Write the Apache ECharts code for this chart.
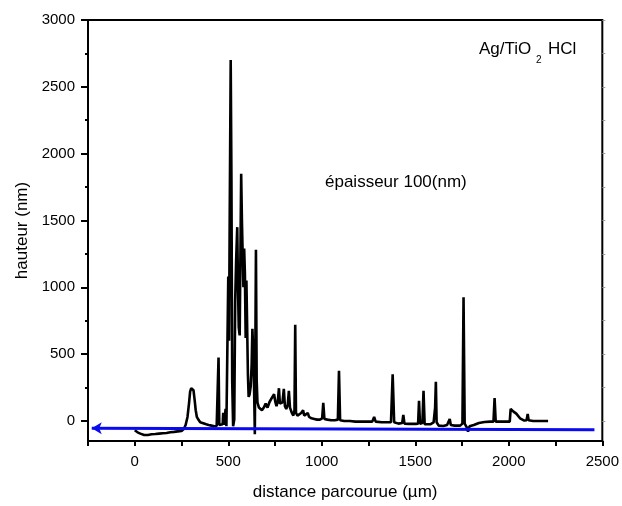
<!DOCTYPE html>
<html>
<head>
<meta charset="utf-8">
<script src="https://cdn.jsdelivr.net/npm/echarts@6/dist/echarts.min.js"></script>
<style>
  html, body { margin: 0; padding: 0; background: #fff; }
  #chart { width: 622px; height: 506px; }
</style>
</head>
<body>
<div id="chart"></div>
<script>
// Surface profile: scan distance (µm) vs measured height (nm)
const distance = [
  0, 15, 30, 50, 70, 90, 110, 130, 150, 170, 190, 210, 230, 250, 262, 272, 282, 290, 296, 302,
  308, 314, 320, 326, 332, 340, 350, 362, 372, 382, 395, 410, 425, 438, 444, 448, 452, 462, 470, 473,
  476, 482, 486, 490, 496, 500, 504, 508, 513, 517, 521, 526, 532, 537, 542, 548, 552, 556, 561, 565,
  569, 573, 577, 581, 585, 589, 593, 597, 601, 605, 609, 614, 620, 625, 629, 634, 638, 642, 648, 652,
  656, 664, 672, 680, 690, 700, 710, 720, 732, 745, 752, 758, 765, 771, 776, 783, 790, 797, 803, 810,
  818, 824, 830, 840, 848, 854, 858, 862, 870, 880, 890, 900, 906, 915, 925, 932, 945, 960, 975, 990,
  1002, 1008, 1014, 1030, 1050, 1070, 1086, 1092, 1098, 1120, 1150, 1180, 1210, 1240, 1270, 1280, 1288, 1320, 1350, 1370,
  1379, 1387, 1410, 1430, 1436, 1442, 1470, 1500, 1515, 1520, 1525, 1538, 1544, 1550, 1580, 1598, 1606, 1610, 1614, 1625,
  1650, 1670, 1684, 1690, 1710, 1740, 1752, 1758, 1764, 1776, 1782, 1790, 1813, 1840, 1870, 1900, 1918, 1924, 1930, 1960,
  1990, 2005, 2010, 2025, 2040, 2060, 2083, 2095, 2101, 2106, 2130, 2160, 2190, 2210
];
const height = [
  -70, -85, -95, -105, -105, -100, -98, -95, -92, -90, -85, -82, -78, -75, -60, -30, 30, 130, 220, 245,
  250, 230, 160, 80, 30, 10, -10, -15, -10, -25, -30, -35, -40, -38, -30, 475, -30, -38, -25, 60,
  -30, -30, 90, -40, -40, 1080, 600, 1600, 2700, 1800, 300, -40, 10, 900, 1200, 1450, 1000, 700, 640, 1250,
  1850, 1500, 1250, 1000, 1290, 1100, 620, 1050, 700, 350, 180, 200, 260, 420, 690, 500, 250, -100, 1280, 300,
  140, 100, 110, 80, 100, 130, 100, 140, 170, 200, 140, 110, 150, 245, 130, 120, 140, 240, 110, 90,
  120, 225, 100, 60, 40, 80, 720, 60, 40, 30, 60, 80, 40, 40, 60, 30, 20, 15, 10, 10,
  20, 135, 15, 10, 5, 5, 10, 375, 5, 0, 0, -5, -5, -5, -5, 30, -5, -10, -10, -10,
  350, -10, -20, -15, 45, -20, -22, -22, -20, 150, -20, -15, 226, -25, -25, -10, 100, 293, -10, -35,
  -38, -30, 15, -30, -35, -35, -20, 925, -20, -50, -80, -40, -30, -15, -8, -5, -5, 172, -5, -5,
  -5, -5, 90, 70, 55, 20, 3, 5, 52, 5, 0, 0, 0, 0
];

// Scan direction arrow (from right to left)
const arrowStart = [2458, -65];
const arrowEnd = [-230, -55];

// Axis ranges and tick positions
const xRange = [-250, 2500];
const yRange = [-150, 3000];
const yMajorTicks = [0, 500, 1000, 1500, 2000, 2500, 3000];
const yMinorTicks = [250, 750, 1250, 1750, 2250, 2750];
const yAllTicks = [0, 250, 500, 750, 1000, 1250, 1500, 1750, 2000, 2250, 2500, 2750, 3000];

const FONT = '"Liberation Sans", Arial, sans-serif';

const chart = echarts.init(document.getElementById('chart'), null, { renderer: 'canvas' });

const profile = distance.map((d, i) => [d, height[i]]);

chart.setOption({
  animation: false,
  backgroundColor: '#fff',
  grid: {
    left: 88, top: 20, width: 517, height: 422,
    show: true, borderColor: '#000', borderWidth: 2, backgroundColor: 'transparent'
  },
  xAxis: {
    type: 'value',
    min: xRange[0], max: xRange[1], interval: 250,
    name: 'distance parcourue (µm)',
    nameLocation: 'middle', nameGap: 43,
    nameTextStyle: { fontFamily: FONT, fontSize: 17, color: '#000' },
    axisLine: { show: true, onZero: false, lineStyle: { color: '#000', width: 2 } },
    axisTick: { show: true, inside: false, length: 5, lineStyle: { color: '#000', width: 2 } },
    axisLabel: {
      fontFamily: FONT, fontSize: 15, color: '#000', margin: 13,
      formatter: v => (v >= 0 && v % 500 === 0) ? String(v) : ''
    },
    splitLine: { show: false }
  },
  yAxis: [
    {
      type: 'value',
      min: yRange[0], max: yRange[1],
      name: 'hauteur (nm)',
      nameLocation: 'middle', nameGap: 53, nameRotate: 90,
      nameTextStyle: { fontFamily: FONT, fontSize: 17, color: '#000' },
      axisLine: { show: true, onZero: false, lineStyle: { color: '#000', width: 2 } },
      axisTick: { show: true, length: 7, customValues: yMajorTicks, lineStyle: { color: '#000', width: 2 } },
      axisLabel: {
        fontFamily: FONT, fontSize: 15, color: '#000', margin: 13, customValues: yMajorTicks,
        formatter: v => String(v)
      },
      splitLine: { show: false }
    },
    {
      type: 'value',
      position: 'left',
      min: yRange[0], max: yRange[1],
      axisLine: { show: false, onZero: false },
      axisTick: { show: true, length: 3, customValues: yMinorTicks, lineStyle: { color: '#000', width: 2 } },
      axisLabel: { show: false },
      splitLine: { show: false }
    },
    {
      type: 'value',
      position: 'right',
      min: yRange[0], max: yRange[1],
      axisLine: { show: false, onZero: false },
      axisTick: { show: true, length: 3, customValues: yAllTicks, lineStyle: { color: '#999', width: 1 } },
      axisLabel: { show: false },
      splitLine: { show: false }
    }
  ],
  series: [
    {
      type: 'line',
      data: profile,
      showSymbol: false,
      symbol: 'none',
      lineStyle: { color: '#000', width: 2.6 },
      z: 3
    },
    {
      type: 'line',
      data: [],
      z: 4,
      markLine: {
        silent: true,
        symbol: ['none', 'arrow'],
        symbolSize: [9, 10],
        label: { show: false },
        lineStyle: { color: '#0a0af0', width: 3, type: 'solid' },
        data: [[{ coord: arrowStart }, { coord: arrowEnd }]]
      }
    }
  ],
  graphic: [
    { type: 'text', x: 479, y: 49, style: { text: 'Ag/TiO', font: '17px ' + FONT, fill: '#000', verticalAlign: 'middle' } },
    { type: 'text', x: 536, y: 60, style: { text: '2', font: '10px ' + FONT, fill: '#000', verticalAlign: 'middle' } },
    { type: 'text', x: 548, y: 49, style: { text: 'HCl', font: '17px ' + FONT, fill: '#000', verticalAlign: 'middle' } },
    { type: 'text', x: 325, y: 182, style: { text: 'épaisseur 100(nm)', font: '17px ' + FONT, fill: '#000', verticalAlign: 'middle' } }
  ]
});
</script>
</body>
</html>
